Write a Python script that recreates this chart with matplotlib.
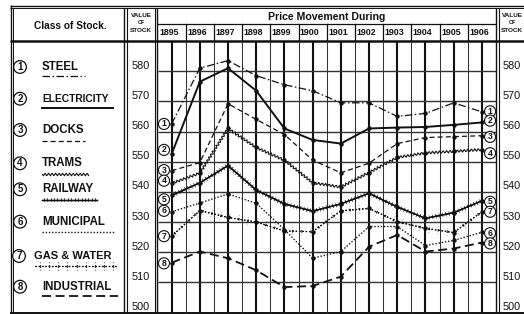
import matplotlib
matplotlib.use('Agg')
import matplotlib.pyplot as plt
import matplotlib.transforms as mtrans
import matplotlib.patheffects as pe
from matplotlib.lines import Line2D

# ---------------- data ----------------
years = list(range(1895, 1907))
steel       = [562.5, 581.0, 583.5, 578.5, 575.5, 573.5, 569.5, 569.5, 565.0, 566.0, 569.5, 566.5]
electricity = [552.5, 576.5, 581.0, 573.5, 561.0, 557.2, 556.0, 561.0, 561.3, 561.5, 562.2, 563.0]
docks       = [547.0, 549.7, 569.2, 564.0, 559.0, 550.5, 546.3, 549.5, 556.0, 558.0, 558.3, 558.6]
trams       = [542.8, 546.2, 561.0, 554.7, 550.5, 543.0, 541.6, 546.4, 551.4, 552.9, 553.4, 554.0]
railway     = [538.8, 543.0, 548.7, 540.6, 536.0, 533.6, 536.0, 539.5, 535.0, 531.2, 533.1, 537.0]
municipal   = [533.4, 536.3, 539.3, 536.2, 527.5, 518.0, 520.2, 528.5, 528.5, 522.2, 523.9, 526.6]
gas_water   = [525.3, 533.8, 531.5, 530.0, 527.0, 526.8, 533.7, 534.5, 530.1, 527.9, 526.5, 533.4]
industrial  = [516.5, 520.2, 518.0, 514.0, 508.4, 508.8, 511.9, 521.8, 525.7, 520.2, 521.2, 523.2]

series_names = ['STEEL', 'ELECTRICITY', 'DOCKS', 'TRAMS', 'RAILWAY', 'MUNICIPAL',
                'GAS & WATER', 'INDUSTRIAL']
series_numbers = ['1', '2', '3', '4', '5', '6', '7', '8']
value_ticks = [500, 510, 520, 530, 540, 550, 560, 570, 580]
year_labels = [str(y) for y in years]
header_title = 'Price Movement During'
left_title = 'Class of Stock.'
value_header = ['VALUE', 'OF', 'STOCK']

all_series = [steel, electricity, docks, trams, railway, municipal, gas_water, industrial]

# ---------------- figure ----------------
W, H = 524, 314
fig = plt.figure(figsize=(W / 100, H / 100), dpi=100)
fig.patch.set_facecolor('white')

ov = fig.add_axes([0, 0, 1, 1])
ov.set_xlim(0, W)
ov.set_ylim(H, 0)
ov.axis('off')

PL, PR, PT, PB = 157.5, 496.0, 41.0, 312.5
ax = fig.add_axes([PL / W, (H - PB) / H, (PR - PL) / W, (PB - PT) / H])
ax.set_xlim(1894.5, 1906.5)
ax.set_ylim(500, 590)
ax.axis('off')

INK = '#111111'
NARROW = ['Liberation Sans Narrow', 'Liberation Sans', 'DejaVu Sans']
BOLD = ['Liberation Sans', 'DejaVu Sans']

# ---------------- frame (pixel coords) ----------------
def hl(y, x0, x1, lw=1.0):
    ov.add_line(Line2D([x0, x1], [y, y], lw=lw, color=INK, solid_capstyle='butt'))

def vl(x, y0, y1, lw=1.0):
    ov.add_line(Line2D([x, x], [y0, y1], lw=lw, color=INK, solid_capstyle='butt'))

hl(5.5, 10, W, 1.0)
hl(8.0, 10, W, 0.7)
vl(10.5, 5, 313, 1.0)
vl(13.0, 8, 313, 0.7)
hl(312.5, 10, W, 1.4)
hl(40.5, 10, W, 1.8)
vl(124.0, 8, 313, 1.0)
vl(127.0, 8, 313, 0.8)
vl(154.5, 8, 313, 0.8)
vl(157.3, 8, 313, 1.0)
vl(496.0, 8, 313, 1.0)
vl(498.7, 8, 313, 0.8)
hl(24.0, 157.3, 496.0, 0.9)

# header year separators
tr_hx = mtrans.blended_transform_factory(ax.transData, ov.transData)
for y in years[:-1]:
    ov.add_line(Line2D([y + 0.5, y + 0.5], [24, 40.5], lw=0.9, color=INK, transform=tr_hx))

# ---------------- grid ----------------
ax.vlines(years, 500, 590, color=INK, lw=1.5, zorder=1)
ax.vlines([y + 0.5 for y in years[:-1]], 500, 590, color='#333333', lw=0.75, zorder=1)
ax.hlines(value_ticks[1:], 1894.5, 1906.5, color='#333333', lw=1.0, zorder=1)

# ---------------- texts ----------------
ov.text(70, 26, left_title, ha='center', va='center', fontsize=7.3, fontweight='bold',
        family=BOLD, color=INK)
for cx in (141, 512):
    for txt, yy in zip(value_header, (15.5, 22.5, 31)):
        ov.text(cx, yy, txt, ha='center', va='center',
                fontsize=4.6 if txt != 'OF' else 3.8, fontweight='bold', family=NARROW, color=INK)
ov.text(326.7, 16.5, header_title, ha='center', va='center', fontsize=7.6,
        fontweight='bold', family=BOLD, color=INK)
for y, lab in zip(years, year_labels):
    ov.text(y - 0.1, 32.5, lab, transform=tr_hx, ha='center', va='center',
            fontsize=6.4, fontweight='bold', family=NARROW, color=INK)

tick_tr = mtrans.blended_transform_factory(ov.transData, ax.transData) + \
    mtrans.ScaledTranslation(0, 0.055, fig.dpi_scale_trans)
for v in value_ticks:
    for cx in (141, 512):
        ov.text(cx, v, str(v), transform=tick_tr, ha='center', va='center',
                fontsize=7.8, family=NARROW, color=INK)

# ---------------- series styles ----------------
styles = [
    dict(ls=(0, (6, 2, 1.2, 2)), lw=0.9),
    dict(ls='-', lw=1.4),
    dict(ls=(0, (4, 2.5)), lw=0.9),
    dict(ls='-', lw=0.8),
    dict(ls='-', lw=0.9),
    dict(ls=(0, (1, 1.3)), lw=1.0),
    dict(ls=(0, (1.2, 1.8)), lw=0.8),
    dict(ls=(0, (5, 2.5)), lw=1.3),
]

def decorate(ln, i):
    if i == 3:
        ln.set_sketch_params(scale=1.3, length=3.5, randomness=1.0)
    if i == 4:
        ln.set_path_effects([pe.Stroke(),
                             pe.withTickedStroke(angle=90, spacing=2.4, length=0.55, linewidth=0.5),
                             pe.withTickedStroke(angle=-90, spacing=2.4, length=0.55, linewidth=0.5)])
    if i == 6:
        ln.set_path_effects([pe.Stroke(),
                             pe.withTickedStroke(angle=90, spacing=6.5, length=0.4, linewidth=0.9),
                             pe.withTickedStroke(angle=-90, spacing=6.5, length=0.4, linewidth=0.9)])

for i, data in enumerate(all_series):
    ln, = ax.plot(years, data, color=INK, zorder=3, **styles[i])
    decorate(ln, i)
    ax.plot(years, data, 'o', color=INK, ms=2.2, zorder=4)

# circled labels at both ends
left_nudge = [0.0, 1.4, 0.2, 0.9, -1.3, 0.3, 0.0, -0.2]
right_nudge = [0.2, 0.6, -0.4, -1.2, -0.3, -0.3, 0.0, -0.3]
for i, data in enumerate(all_series):
    ax.text(1894.73, data[0] + left_nudge[i], series_numbers[i], ha='center', va='center',
            fontsize=6.2, fontweight='bold', family=BOLD, color=INK, zorder=6,
            bbox=dict(boxstyle='circle,pad=0.12', fc='white', ec=INK, lw=0.8))
    ax.text(1906.29, data[-1] + right_nudge[i], series_numbers[i], ha='center', va='center',
            fontsize=6.2, fontweight='bold', family=BOLD, color=INK, zorder=6,
            bbox=dict(boxstyle='circle,pad=0.12', fc='white', ec=INK, lw=0.8))

# ---------------- legend panel ----------------
leg_text_y = [67, 98.7, 130, 163.3, 189.3, 221.7, 256, 286.7]
leg_line_y = [75.7, 108.3, 141, 174, 199.5, 232, 266, 296]
leg_line_x = [(42, 85), (42, 113), (42, 85), (42, 88), (42, 97), (42, 115), (35, 118), (42, 118)]
leg_text_x = [42, 42, 42, 42, 42, 42, 34, 42]
leg_sizes = [8.3, 7.4, 8.3, 8.3, 8.3, 8.3, 8.0, 8.3]
for i in range(8):
    ov.text(20 if i != 6 else 19, leg_text_y[i], series_numbers[i], ha='center', va='center',
            fontsize=7.0, fontweight='bold', family=BOLD, color=INK,
            bbox=dict(boxstyle='circle,pad=0.14', fc='white', ec=INK, lw=0.9))
    ov.text(leg_text_x[i], leg_text_y[i], series_names[i], ha='left', va='center',
            fontsize=leg_sizes[i], fontweight='bold', family=BOLD, color=INK)
    x0, x1 = leg_line_x[i]
    ln = Line2D([x0, x1], [leg_line_y[i], leg_line_y[i]], color=INK, **styles[i])
    ov.add_line(ln)
    decorate(ln, i)

fig.savefig('out.png', dpi=100, facecolor='white')
